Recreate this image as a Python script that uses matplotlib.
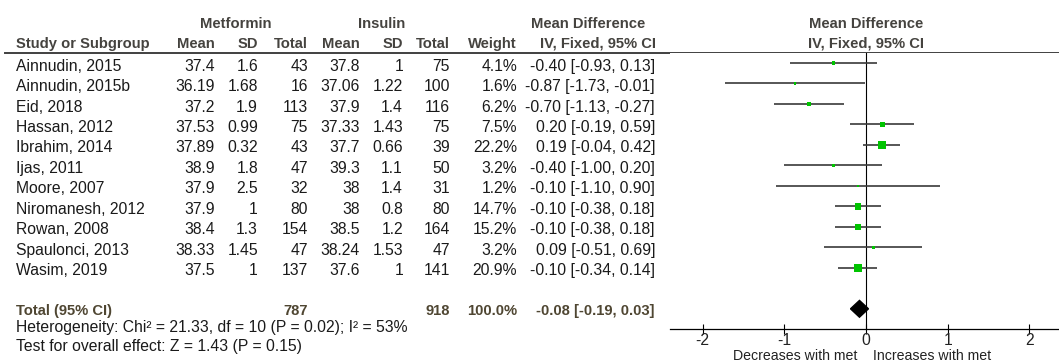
import numpy as np
import matplotlib
matplotlib.use('Agg')
import matplotlib.pyplot as plt

plt.rcParams['font.family'] = ['Liberation Sans', 'DejaVu Sans']

# study data
studies = ['Ainnudin, 2015', 'Ainnudin, 2015b', 'Eid, 2018', 'Hassan, 2012', 'Ibrahim, 2014',
           'Ijas, 2011', 'Moore, 2007', 'Niromanesh, 2012', 'Rowan, 2008', 'Spaulonci, 2013',
           'Wasim, 2019']
met_mean = ['37.4', '36.19', '37.2', '37.53', '37.89', '38.9', '37.9', '37.9', '38.4', '38.33', '37.5']
met_sd = ['1.6', '1.68', '1.9', '0.99', '0.32', '1.8', '2.5', '1', '1.3', '1.45', '1']
met_n = [43, 16, 113, 75, 43, 47, 32, 80, 154, 47, 137]
ins_mean = ['37.8', '37.06', '37.9', '37.33', '37.7', '39.3', '38', '38', '38.5', '38.24', '37.6']
ins_sd = ['1', '1.22', '1.4', '1.43', '0.66', '1.1', '1.4', '0.8', '1.2', '1.53', '1']
ins_n = [75, 100, 116, 75, 39, 50, 31, 80, 164, 47, 141]
weight = [4.1, 1.6, 6.2, 7.5, 22.2, 3.2, 1.2, 14.7, 15.2, 3.2, 20.9]
md = [-0.40, -0.87, -0.70, 0.20, 0.19, -0.40, -0.10, -0.10, -0.10, 0.09, -0.10]
lo = [-0.93, -1.73, -1.13, -0.19, -0.04, -1.00, -1.10, -0.38, -0.38, -0.51, -0.34]
hi = [0.13, -0.01, -0.27, 0.59, 0.42, 0.20, 0.90, 0.18, 0.18, 0.69, 0.14]

# pooled
tot_met = 787
tot_ins = 918
tot_w = 100.0
tot_md, tot_lo, tot_hi = -0.08, -0.19, 0.03
het_text = 'Heterogeneity: Chi\u00b2 = 21.33, df = 10 (P = 0.02); I\u00b2 = 53%'
test_text = 'Test for overall effect: Z = 1.43 (P = 0.15)'

xticks = [-2, -1, 0, 1, 2]

W, H = 1059, 362
fig = plt.figure(figsize=(W / 100, H / 100), dpi=100)

y_top, y_axis = 52.7, 329.3
row_top, row_bot = -0.5, 13
bottom = (H - y_axis) / H
height = (y_axis - y_top) / H

hdr_col = '#45433f'
tot_col = '#4f4632'
fs = 11.3
fsb = 10.6

# table axes (x in pixels, y in rows)
tax = fig.add_axes([0, bottom, 1, height])
tax.set_xlim(0, W)
tax.set_ylim(row_bot, row_top)
tax.axis('off')

# forest axes
ax = fig.add_axes([670 / W, bottom, 1 - 670 / W, height])
ax.set_xlim(-2.399, 2.362)
ax.set_ylim(row_bot, row_top)

rows = np.arange(len(studies))
tot_row = len(studies) + 1

# column right edges
c_mm, c_msd, c_mn = 215, 258, 308
c_im, c_isd, c_in = 360, 403, 450
c_w, c_ci = 517, 655
x_study = 16

def t(x, y, s, ha='right', bold=False, color='#1a1a1a'):
    tax.text(x, y, s, ha=ha, va='baseline', fontsize=fsb if bold else fs,
             fontweight='bold' if bold else 'normal', color=color, clip_on=False)

# headers
h1, h2 = -1.69, -0.74
t(236, h1, 'Metformin', ha='center', bold=True, color=hdr_col)
t(382, h1, 'Insulin', ha='center', bold=True, color=hdr_col)
t(588, h1, 'Mean Difference', ha='center', bold=True, color=hdr_col)
t(x_study, h2, 'Study or Subgroup', ha='left', bold=True, color=hdr_col)
for x, s in [(c_mm, 'Mean'), (c_msd, 'SD'), (c_mn, 'Total'), (c_im, 'Mean'),
             (c_isd, 'SD'), (c_in, 'Total'), (c_w, 'Weight'), (c_ci + 1, 'IV, Fixed, 95% CI')]:
    t(x, h2, s, bold=True, color=hdr_col)
ax.text(0, h1, 'Mean Difference', ha='center', va='baseline', fontsize=fsb,
        fontweight='bold', color=hdr_col, clip_on=False)
ax.text(0, h2, 'IV, Fixed, 95% CI', ha='center', va='baseline', fontsize=fsb,
        fontweight='bold', color=hdr_col, clip_on=False)

tax.axhline(row_top, xmin=5 / W, xmax=1, color='#404040', lw=1.4, clip_on=False)

# study rows
off = 0.37
for i in rows:
    y = i + off
    t(x_study, y, studies[i], ha='left')
    t(c_mm, y, met_mean[i])
    t(c_msd, y, met_sd[i])
    t(c_mn, y, str(met_n[i]))
    t(c_im, y, ins_mean[i])
    t(c_isd, y, ins_sd[i])
    t(c_in, y, str(ins_n[i]))
    t(c_w, y, '%.1f%%' % weight[i])
    t(c_ci, y, '%.2f [%.2f, %.2f]' % (md[i], lo[i], hi[i]))

# total row
yt = tot_row + 0.3
t(x_study, yt, 'Total (95% CI)', ha='left', bold=True, color=tot_col)
t(c_mn, yt, str(tot_met), bold=True, color=tot_col)
t(c_in, yt, str(tot_ins), bold=True, color=tot_col)
t(c_w, yt, '%.1f%%' % tot_w, bold=True, color=tot_col)
t(c_ci, yt, '%.2f [%.2f, %.2f]' % (tot_md, tot_lo, tot_hi), bold=True, color=tot_col)

t(x_study, 13.15, het_text, ha='left')
t(x_study, 14.05, test_text, ha='left')

# forest plot
ax.axvline(0, color='black', lw=0.8, zorder=1)
ax.hlines(rows, lo, hi, color='#3a3a3a', lw=1.2, zorder=2)
side_px = 1.7 * np.sqrt(weight)
ax.scatter(md, rows, marker='s', s=(side_px * 0.72) ** 2, color='#00c400',
           edgecolor='none', zorder=3)
dh = 0.41
ax.fill([tot_lo, tot_md, tot_hi, tot_md],
        [tot_row, tot_row - dh, tot_row, tot_row + dh], color='black', zorder=3)

for s in ['top', 'right', 'left']:
    ax.spines[s].set_visible(False)
ax.spines['bottom'].set_linewidth(0.9)
ax.set_yticks([])
ax.set_xticks(xticks)
ax.set_xticklabels([str(v) for v in xticks])
ax.tick_params(axis='x', direction='inout', length=6.5, width=0.8, pad=-0.5,
               labelsize=fs, labelcolor='#222222')

ax.annotate('Decreases with met', xy=(-0.1, 0), xycoords=('data', 'axes fraction'),
            xytext=(0, -19), textcoords='offset points', ha='right', va='center',
            fontsize=10.2, color='#222222', annotation_clip=False)
ax.annotate('Increases with met', xy=(0.08, 0), xycoords=('data', 'axes fraction'),
            xytext=(0, -19), textcoords='offset points', ha='left', va='center',
            fontsize=10.2, color='#222222', annotation_clip=False)

fig.savefig('out.png', dpi=100)
